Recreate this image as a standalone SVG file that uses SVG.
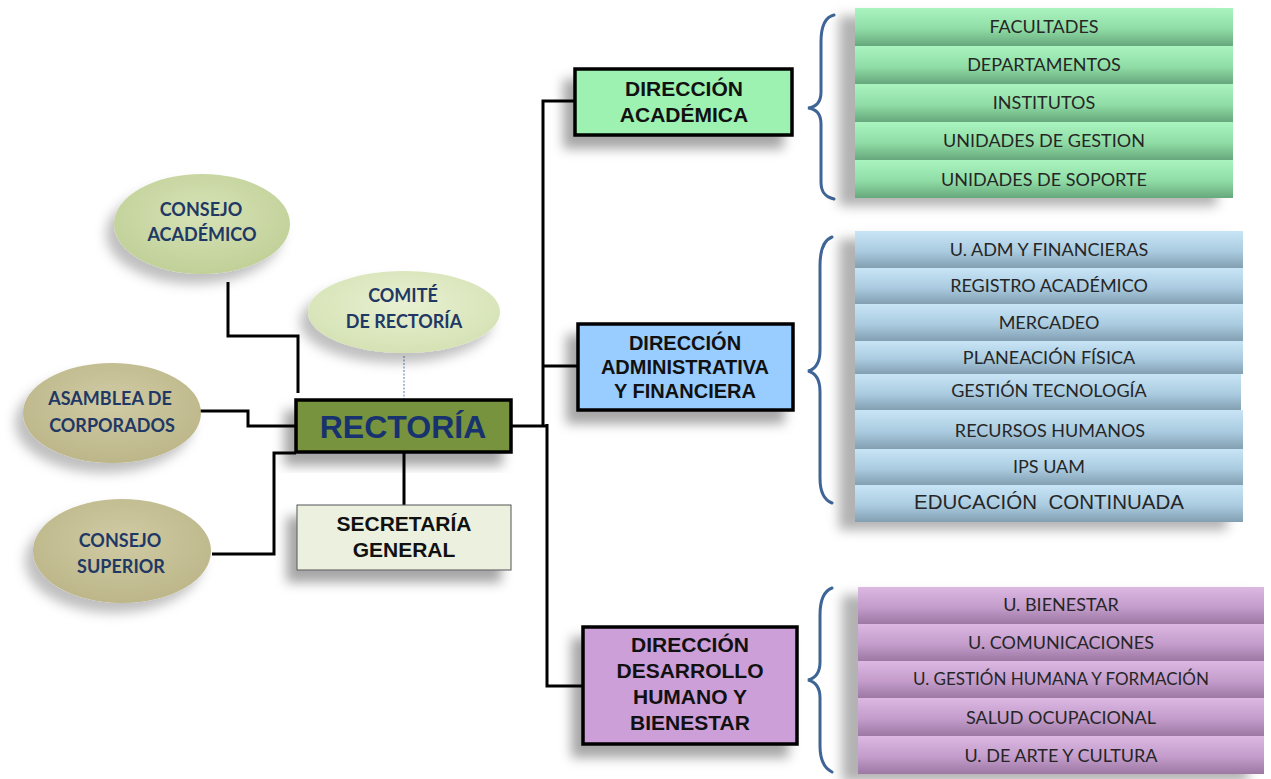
<svg xmlns="http://www.w3.org/2000/svg" width="1271" height="779" viewBox="0 0 1271 779">
  <defs>
    <filter id="shadow" x="-20%" y="-20%" width="140%" height="160%">
      <feDropShadow dx="-10" dy="12" stdDeviation="6" flood-color="#000" flood-opacity="0.35"/>
    </filter>
    <filter id="shadowList" x="-20%" y="-10%" width="140%" height="130%">
      <feDropShadow dx="-16" dy="8" stdDeviation="6" flood-color="#000" flood-opacity="0.3"/>
    </filter>
    <filter id="shadowEllipse" x="-30%" y="-30%" width="160%" height="170%">
      <feDropShadow dx="-8" dy="10" stdDeviation="6" flood-color="#000" flood-opacity="0.25"/>
    </filter>
    <radialGradient id="gLightGreen" cx="50%" cy="40%" r="60%">
      <stop offset="0" stop-color="#d6e2b6"/>
      <stop offset="1" stop-color="#c1d098"/>
    </radialGradient>
    <radialGradient id="gPaleGreen" cx="50%" cy="40%" r="60%">
      <stop offset="0" stop-color="#e8f0d2"/>
      <stop offset="1" stop-color="#d5e2b4"/>
    </radialGradient>
    <radialGradient id="gTan" cx="50%" cy="40%" r="60%">
      <stop offset="0" stop-color="#d1cba5"/>
      <stop offset="1" stop-color="#bcb689"/>
    </radialGradient>
    <linearGradient id="rowGreen" x1="0" y1="0" x2="0" y2="1">
      <stop offset="0" stop-color="#aaf5bf"/>
      <stop offset="0.55" stop-color="#90dca6"/>
      <stop offset="1" stop-color="#66a87c"/>
    </linearGradient>
    <linearGradient id="rowBlue" x1="0" y1="0" x2="0" y2="1">
      <stop offset="0" stop-color="#c8e5f6"/>
      <stop offset="0.55" stop-color="#aacbe0"/>
      <stop offset="1" stop-color="#839fb2"/>
    </linearGradient>
    <linearGradient id="rowPurple" x1="0" y1="0" x2="0" y2="1">
      <stop offset="0" stop-color="#dcb8e2"/>
      <stop offset="0.55" stop-color="#c39ccb"/>
      <stop offset="1" stop-color="#9c78a3"/>
    </linearGradient>
  </defs>
  <style>
    .ell-text { font-family: Lato, "Liberation Sans", sans-serif; font-weight: bold; font-size: 18px; fill: #1f3864; text-anchor: middle; }
    .box { stroke: #000; stroke-width: 3.5; }
    .dir-text { font-family: "Liberation Sans", Arial, sans-serif; font-weight: bold; font-size: 21px; fill: #111; text-anchor: middle; }
    .dir-text.small { font-size: 20px; }
    .row-text { font-family: Lato, "Liberation Sans", sans-serif; font-size: 18px; fill: #262626; text-anchor: middle; }
    .row-text.small { font-size: 17px; }
    .conn { fill: none; stroke: #000; stroke-width: 3; }
    .brace { fill: none; stroke: #3f6596; stroke-width: 3; stroke-linecap: round; }
  </style>

  <rect width="1271" height="779" fill="#ffffff"/>

  <!-- connectors -->
  <g id="connectors">
    <polyline class="conn" points="228,282 228,336 298,336 298,393"/>
    <line x1="404" y1="356" x2="404" y2="399" stroke="#5b7cb3" stroke-width="1" stroke-dasharray="2,1.5"/>
    <polyline class="conn" points="200,411 248,411 248,426 296,426"/>
    <polyline class="conn" points="212,554 274,554 274,453 296,453"/>
    <line class="conn" x1="404" y1="453" x2="404" y2="505"/>
    <polyline class="conn" points="512,426 547,426"/>
    <polyline class="conn" points="576,101 543,101 543,427"/>
    <line class="conn" x1="543" y1="366" x2="578" y2="366"/>
    <polyline class="conn" points="547,424 547,686 583,686"/>
  </g>

  <!-- councils around the rector's office -->
  <g id="consejo-academico">
    <ellipse cx="202" cy="224" rx="88" ry="50" fill="url(#gLightGreen)" filter="url(#shadowEllipse)"/>
    <text class="ell-text" x="201" y="216">CONSEJO</text>
    <text class="ell-text" x="202" y="241">ACADÉMICO</text>
  </g>
  <g id="comite-rectoria">
    <ellipse cx="404" cy="312" rx="96" ry="41" fill="url(#gPaleGreen)" filter="url(#shadowEllipse)"/>
    <text class="ell-text" x="403" y="302">COMITÉ</text>
    <text class="ell-text" x="404" y="328">DE RECTORÍA</text>
  </g>
  <g id="asamblea-corporados">
    <ellipse cx="112" cy="413" rx="89" ry="50" fill="url(#gTan)" filter="url(#shadowEllipse)"/>
    <text class="ell-text" x="110" y="405">ASAMBLEA DE</text>
    <text class="ell-text" x="112" y="432">CORPORADOS</text>
  </g>
  <g id="consejo-superior">
    <ellipse cx="122" cy="551" rx="89" ry="52" fill="url(#gTan)" filter="url(#shadowEllipse)"/>
    <text class="ell-text" x="120" y="547">CONSEJO</text>
    <text class="ell-text" x="121" y="573">SUPERIOR</text>
  </g>

  <!-- rector's office and general secretary -->
  <g id="rectoria">
    <rect class="box" x="296" y="400" width="215" height="52" fill="#77933c" filter="url(#shadow)"/>
    <text x="403" y="438" font-family="'Liberation Sans', Arial, sans-serif" font-weight="bold" font-size="32" fill="#17326e" text-anchor="middle">RECTORÍA</text>
  </g>
  <g id="secretaria-general">
    <rect x="297" y="505" width="214" height="65" fill="#ebf1de" stroke="#555" stroke-width="1" filter="url(#shadow)"/>
    <text class="dir-text" x="404" y="531">SECRETARÍA</text>
    <text class="dir-text" x="404" y="557">GENERAL</text>
  </g>

  <!-- directorates -->
  <g id="direccion-academica">
    <rect class="box" x="575" y="69" width="217" height="66" fill="#9df2b1" filter="url(#shadow)"/>
    <text class="dir-text" x="684" y="96">DIRECCIÓN</text>
    <text class="dir-text" x="684" y="122">ACADÉMICA</text>
  </g>
  <g id="direccion-administrativa">
    <rect class="box" x="578" y="324" width="215" height="86" fill="#99ccff" filter="url(#shadow)"/>
    <text class="dir-text small" x="685" y="350">DIRECCIÓN</text>
    <text class="dir-text small" x="685" y="374">ADMINISTRATIVA</text>
    <text class="dir-text small" x="685" y="398">Y FINANCIERA</text>
  </g>
  <g id="direccion-desarrollo">
    <rect class="box" x="583" y="627" width="214" height="117" fill="#cc9fd8" filter="url(#shadow)"/>
    <text class="dir-text" x="690" y="652">DIRECCIÓN</text>
    <text class="dir-text" x="690" y="678">DESARROLLO</text>
    <text class="dir-text" x="690" y="704">HUMANO Y</text>
    <text class="dir-text" x="690" y="730">BIENESTAR</text>
  </g>

  <!-- braces -->
  <g id="braces">
    <path class="brace" d="M834,15 C825,17 821,27 821,42 L821,92 C821,102 816,107 808,108 C816,109 821,114 821,124 L821,182 C821,192 825,197 834,199"/>
    <path class="brace" d="M832,237 C824,240 820,250 820,266 L820,350 C820,362 816,369 808,371 C816,373 820,380 820,392 L820,478 C820,492 824,500 832,503"/>
    <path class="brace" d="M832,588 C824,591 820,601 820,615 L820,662 C820,672 816,678 808,680 C816,682 820,688 820,698 L820,746 C820,760 824,768 832,772"/>
  </g>

  <!-- academic units -->
  <g id="unidades-academicas" filter="url(#shadowList)">
    <rect x="855" y="8" width="378" height="38" fill="url(#rowGreen)"/>
    <rect x="855" y="46" width="378" height="38" fill="url(#rowGreen)"/>
    <rect x="855" y="84" width="378" height="38" fill="url(#rowGreen)"/>
    <rect x="855" y="122" width="378" height="38" fill="url(#rowGreen)"/>
    <rect x="855" y="160" width="378" height="38" fill="url(#rowGreen)"/>
  </g>
  <g id="textos-academicos">
    <text class="row-text" x="1044" y="33">FACULTADES</text>
    <text class="row-text" x="1044" y="71">DEPARTAMENTOS</text>
    <text class="row-text" x="1044" y="109">INSTITUTOS</text>
    <text class="row-text" x="1044" y="147">UNIDADES DE GESTION</text>
    <text class="row-text" x="1044" y="186">UNIDADES DE SOPORTE</text>
  </g>

  <!-- administrative and financial units -->
  <g id="unidades-administrativas" filter="url(#shadowList)">
    <rect x="855" y="231" width="388" height="37" fill="url(#rowBlue)"/>
    <rect x="855" y="268" width="388" height="36" fill="url(#rowBlue)"/>
    <rect x="855" y="304" width="388" height="37" fill="url(#rowBlue)"/>
    <rect x="855" y="341" width="388" height="33" fill="url(#rowBlue)"/>
    <rect x="855" y="374" width="386" height="36" fill="url(#rowBlue)"/>
    <rect x="855" y="410" width="388" height="39" fill="url(#rowBlue)"/>
    <rect x="855" y="449" width="388" height="36" fill="url(#rowBlue)"/>
    <rect x="855" y="485" width="388" height="37" fill="url(#rowBlue)"/>
  </g>
  <g id="textos-administrativos">
    <text class="row-text" x="1049" y="256">U. ADM Y FINANCIERAS</text>
    <text class="row-text" x="1049" y="292">REGISTRO ACADÉMICO</text>
    <text class="row-text" x="1049" y="329">MERCADEO</text>
    <text class="row-text" x="1049" y="364">PLANEACIÓN FÍSICA</text>
    <text class="row-text" x="1049" y="397">GESTIÓN TECNOLOGÍA</text>
    <text class="row-text" x="1050" y="437">RECURSOS HUMANOS</text>
    <text class="row-text" x="1049" y="473">IPS UAM</text>
    <text x="1049" y="509" font-family="'Liberation Sans', Arial, sans-serif" font-size="20.5" fill="#262626" text-anchor="middle" xml:space="preserve">EDUCACIÓN  CONTINUADA</text>
  </g>

  <!-- human development and wellbeing units -->
  <g id="unidades-bienestar" filter="url(#shadowList)">
    <rect x="858" y="587" width="406" height="37" fill="url(#rowPurple)"/>
    <rect x="858" y="624" width="406" height="37" fill="url(#rowPurple)"/>
    <rect x="858" y="661" width="406" height="37" fill="url(#rowPurple)"/>
    <rect x="858" y="698" width="406" height="38" fill="url(#rowPurple)"/>
    <rect x="858" y="736" width="406" height="38" fill="url(#rowPurple)"/>
  </g>
  <g id="textos-bienestar">
    <text class="row-text" x="1061" y="611">U. BIENESTAR</text>
    <text class="row-text" x="1061" y="649">U. COMUNICACIONES</text>
    <text class="row-text small" x="1061" y="685">U. GESTIÓN HUMANA Y FORMACIÓN</text>
    <text class="row-text" x="1061" y="724">SALUD OCUPACIONAL</text>
    <text class="row-text" x="1061" y="762">U. DE ARTE Y CULTURA</text>
  </g>
</svg>
